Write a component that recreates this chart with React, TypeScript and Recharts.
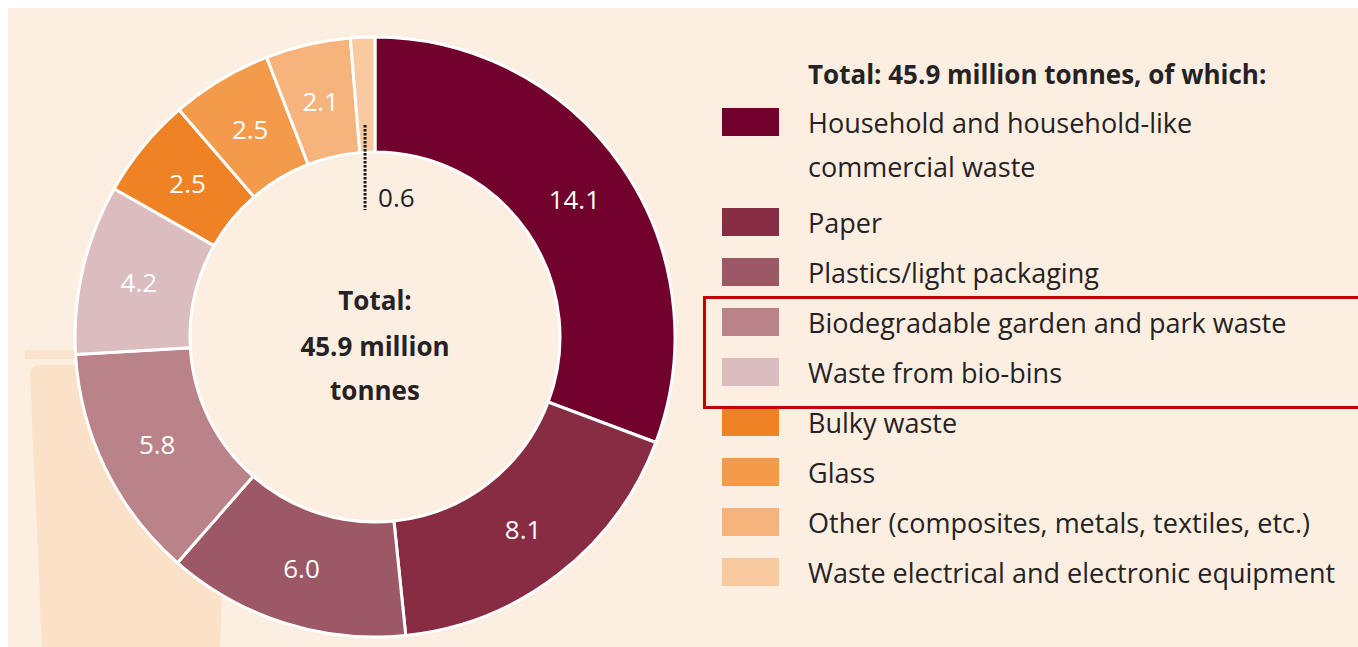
import { PieChart, Pie, Cell } from "recharts";

const categories = [
  "Household and household-like commercial waste",
  "Paper",
  "Plastics/light packaging",
  "Biodegradable garden and park waste",
  "Waste from bio-bins",
  "Bulky waste",
  "Glass",
  "Other (composites, metals, textiles, etc.)",
  "Waste electrical and electronic equipment",
];

const legendLines = [
  ["Household and household-like", "commercial waste"],
  ["Paper"],
  ["Plastics/light packaging"],
  ["Biodegradable garden and park waste"],
  ["Waste from bio-bins"],
  ["Bulky waste"],
  ["Glass"],
  ["Other (composites, metals, textiles, etc.)"],
  ["Waste electrical and electronic equipment"],
];

const tonnes = [14.1, 8.1, 6.0, 5.8, 4.2, 2.5, 2.5, 2.1, 0.6];

const colors = [
  "#72002c",
  "#882c44",
  "#9d5866",
  "#ba8389",
  "#dbbdbf",
  "#ee8224",
  "#f39b4a",
  "#f6b37b",
  "#f9c9a0",
];

const totalLabel = "45.9";

const data = categories.map((name, i) => ({ name, value: tonnes[i] }));

const RADIAN = Math.PI / 180;
const FONT = "'Open Sans', Lato, sans-serif";
const TEXT = "#262223";
const BG = "#fcefe2";
const CX = 367;
const CY = 329;
const INNER = 185;
const OUTER = 300;

const renderLabel = (props: any) => {
  const { cx, cy, midAngle, innerRadius, outerRadius, value, index } = props;
  const r = (innerRadius + outerRadius) / 2;
  const x = cx + r * Math.cos(-midAngle * RADIAN);
  const y = cy + r * Math.sin(-midAngle * RADIAN);

  // tiny slice: dotted pointer into the hole, dark text
  if (value < 1) {
    return (
      <g key={`lbl-${index}`}>
        <line
          x1={x}
          y1={cy - innerRadius - 27}
          x2={x}
          y2={cy - innerRadius + 58}
          stroke="#1a1a1a"
          strokeWidth={3}
          strokeDasharray="2.5 1.5"
        />
        <text
          x={x + 13}
          y={cy - innerRadius + 45}
          fill={TEXT}
          fontSize={26}
          fontFamily={FONT}
          textAnchor="start"
          dominantBaseline="central"
        >
          {value.toFixed(1)}
        </text>
      </g>
    );
  }

  return (
    <text
      key={`lbl-${index}`}
      x={x}
      y={y}
      fill="#ffffff"
      fontSize={26}
      fontFamily={FONT}
      textAnchor="middle"
      dominantBaseline="central"
    >
      {value.toFixed(1)}
    </text>
  );
};

export default function App() {
  return (
    <div
      style={{
        position: "absolute",
        left: 8,
        top: 8,
        width: 1350,
        height: 639,
        background: BG,
        overflow: "hidden",
        fontFamily: FONT,
      }}
    >
      {/* faint bin shape in the background */}
      <svg
        width={260}
        height={300}
        style={{ position: "absolute", left: 0, top: 339 }}
      >
        <rect x={17} y={3} width={200} height={9} fill="#fbe3cc" />
        <path
          d="M22 28 Q22 18 32 18 L214 18 Q222 18 222 28 L212 300 L34 300 Z"
          fill="#fbe1c7"
        />
      </svg>

      <div style={{ position: "absolute", left: 0, top: 0 }}>
        <PieChart
          width={740}
          height={639}
          margin={{ top: 0, right: 0, bottom: 0, left: 0 }}
        >
          {/* hole of the donut covers the bin */}
          <circle cx={CX} cy={CY} r={INNER} fill={BG} />
          <Pie
            data={data}
            dataKey="value"
            nameKey="name"
            cx={CX}
            cy={CY}
            innerRadius={INNER}
            outerRadius={OUTER}
            startAngle={90}
            endAngle={-270}
            stroke="#ffffff"
            strokeWidth={3}
            label={renderLabel}
            labelLine={false}
            isAnimationActive={false}
          >
            {data.map((d, i) => (
              <Cell key={d.name} fill={colors[i]} />
            ))}
          </Pie>
          <text
            x={CX}
            y={292}
            textAnchor="middle"
            dominantBaseline="central"
            fontSize={26}
            fontWeight={700}
            fontFamily={FONT}
            fill={TEXT}
          >
            Total:
          </text>
          <text
            x={CX}
            y={338}
            textAnchor="middle"
            dominantBaseline="central"
            fontSize={26}
            fontWeight={700}
            fontFamily={FONT}
            fill={TEXT}
          >
            {totalLabel} million
          </text>
          <text
            x={CX}
            y={382}
            textAnchor="middle"
            dominantBaseline="central"
            fontSize={26}
            fontWeight={700}
            fontFamily={FONT}
            fill={TEXT}
          >
            tonnes
          </text>
        </PieChart>
      </div>

      {/* legend */}
      <div
        style={{
          position: "absolute",
          left: 800,
          top: 50,
          fontSize: 26,
          fontWeight: 700,
          color: TEXT,
          lineHeight: "32px",
          whiteSpace: "nowrap",
        }}
      >
        Total: {totalLabel} million tonnes, of which:
      </div>
      {categories.map((name, i) => {
        const top = i === 0 ? 100 : 150 + i * 50;
        return (
          <div key={name} style={{ position: "absolute", left: 714, top }}>
            <div
              style={{
                position: "absolute",
                left: 0,
                top: 0,
                width: 57,
                height: 28,
                background: colors[i],
              }}
            />
            {legendLines[i].map((line, j) => (
              <div
                key={line}
                style={{
                  position: "absolute",
                  left: 86,
                  top: -1 + j * 44,
                  whiteSpace: "nowrap",
                  fontSize: 27,
                  lineHeight: "32px",
                  color: TEXT,
                }}
              >
                {line}
              </div>
            ))}
          </div>
        );
      })}

      {/* highlight box */}
      <div
        style={{
          position: "absolute",
          left: 695,
          top: 288,
          width: 670,
          height: 107,
          border: "3px solid #c40000",
        }}
      />
    </div>
  );
}
